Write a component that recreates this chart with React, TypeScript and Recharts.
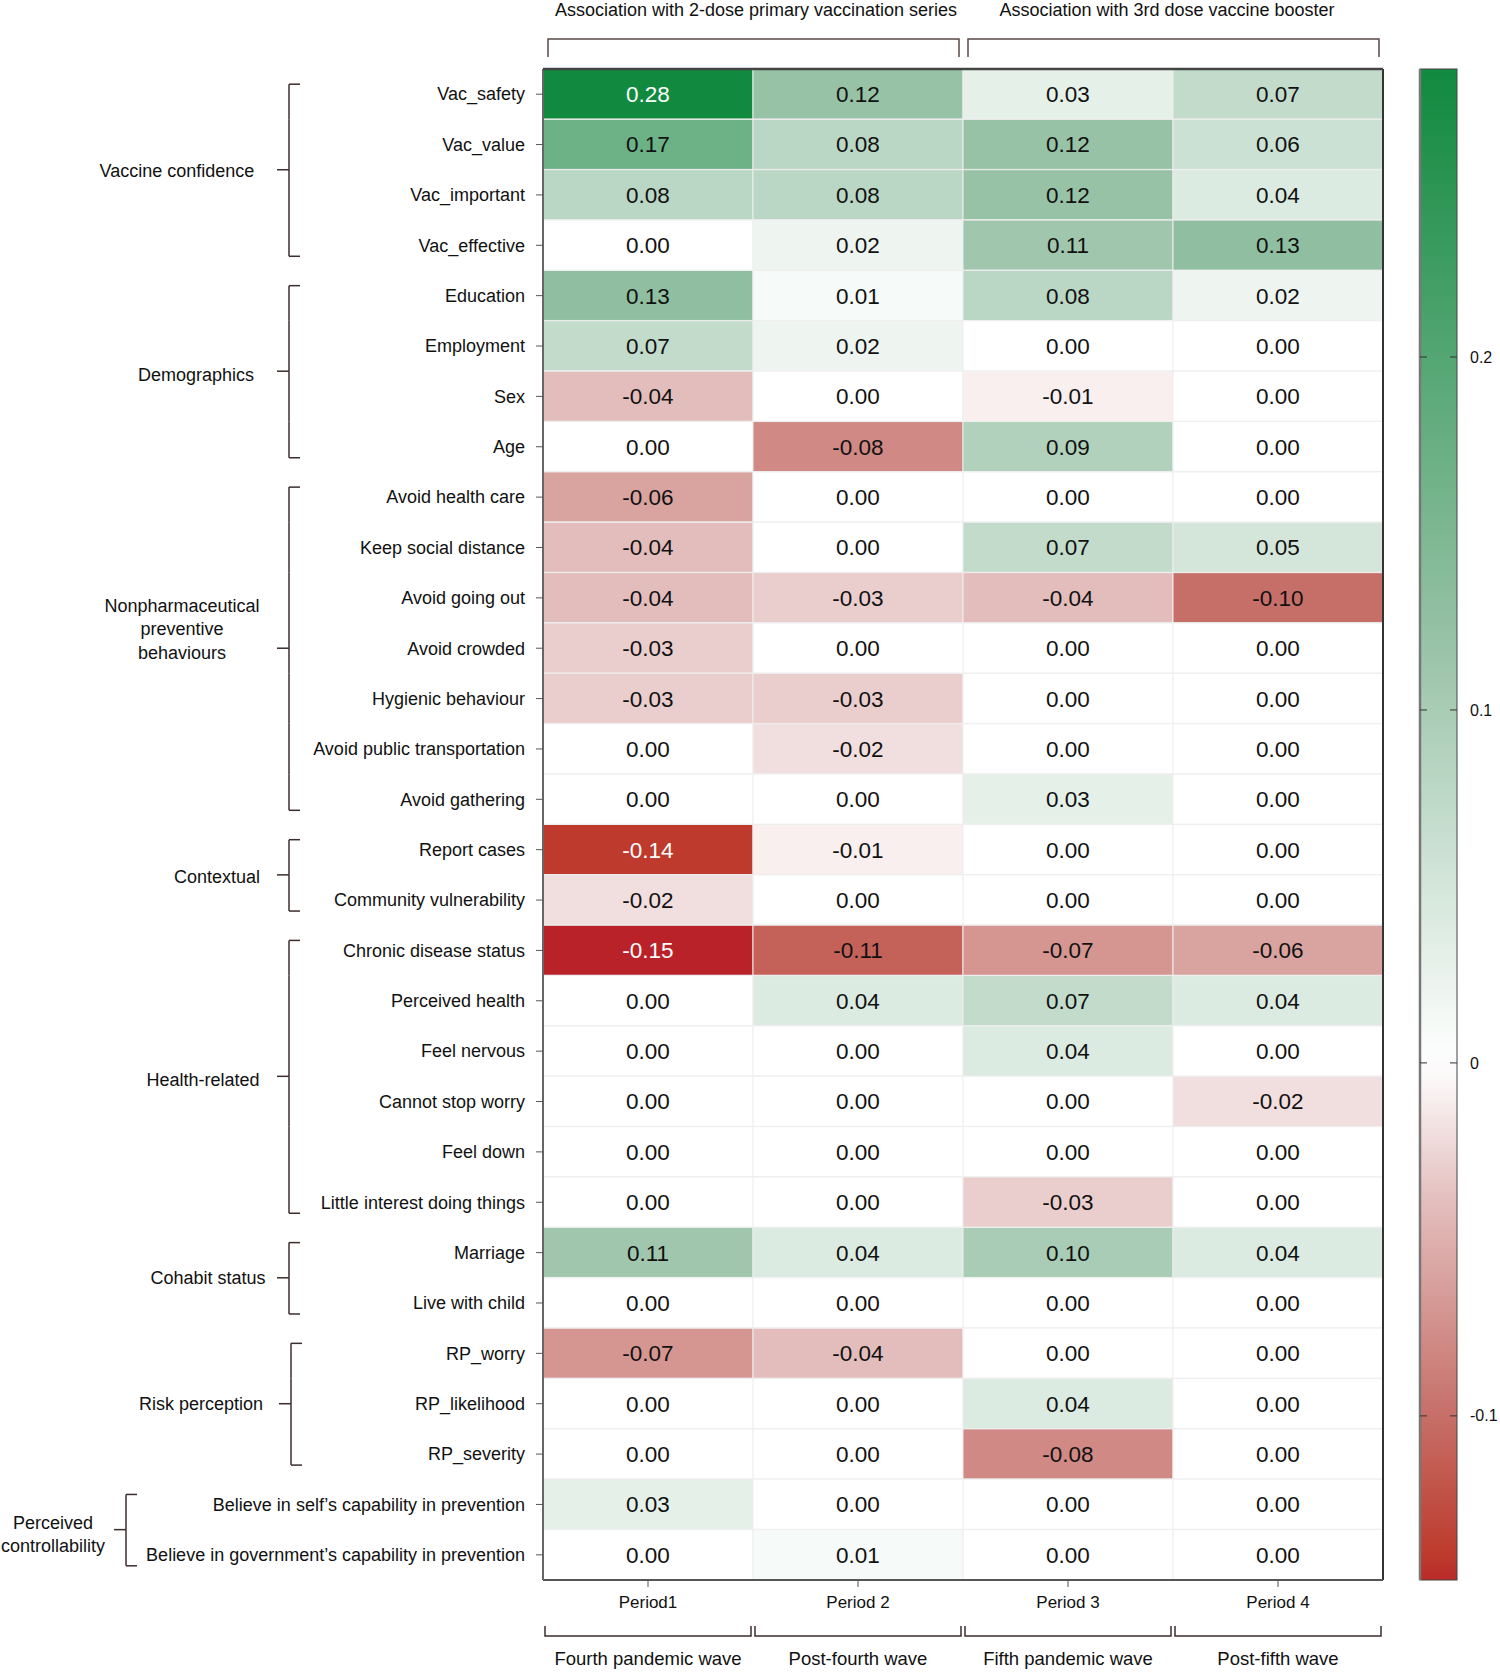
import React from 'react';
import { BarChart, Bar, XAxis, YAxis, Cell, LabelList, ReferenceLine } from 'recharts';

const ROWS = [
  'Vac_safety', 'Vac_value', 'Vac_important', 'Vac_effective',
  'Education', 'Employment', 'Sex', 'Age',
  'Avoid health care', 'Keep social distance', 'Avoid going out', 'Avoid crowded',
  'Hygienic behaviour', 'Avoid public transportation', 'Avoid gathering',
  'Report cases', 'Community vulnerability',
  'Chronic disease status', 'Perceived health', 'Feel nervous', 'Cannot stop worry',
  'Feel down', 'Little interest doing things',
  'Marriage', 'Live with child',
  'RP_worry', 'RP_likelihood', 'RP_severity',
  'Believe in self\u2019s capability in prevention',
  'Believe in government\u2019s capability in prevention',
];

const PERIOD1 = [0.28, 0.17, 0.08, 0.00, 0.13, 0.07, -0.04, 0.00, -0.06, -0.04, -0.04, -0.03, -0.03, 0.00, 0.00, -0.14, -0.02, -0.15, 0.00, 0.00, 0.00, 0.00, 0.00, 0.11, 0.00, -0.07, 0.00, 0.00, 0.03, 0.00];
const PERIOD2 = [0.12, 0.08, 0.08, 0.02, 0.01, 0.02, 0.00, -0.08, 0.00, 0.00, -0.03, 0.00, -0.03, -0.02, 0.00, -0.01, 0.00, -0.11, 0.04, 0.00, 0.00, 0.00, 0.00, 0.04, 0.00, -0.04, 0.00, 0.00, 0.00, 0.01];
const PERIOD3 = [0.03, 0.12, 0.12, 0.11, 0.08, 0.00, -0.01, 0.09, 0.00, 0.07, -0.04, 0.00, 0.00, 0.00, 0.03, 0.00, 0.00, -0.07, 0.07, 0.04, 0.00, 0.00, -0.03, 0.10, 0.00, 0.00, 0.04, -0.08, 0.00, 0.00];
const PERIOD4 = [0.07, 0.06, 0.04, 0.13, 0.02, 0.00, 0.00, 0.00, 0.00, 0.05, -0.10, 0.00, 0.00, 0.00, 0.00, 0.00, 0.00, -0.06, 0.04, 0.00, -0.02, 0.00, 0.00, 0.04, 0.00, 0.00, 0.00, 0.00, 0.00, 0.00];

const PERIODS = ['Period1', 'Period 2', 'Period 3', 'Period 4'];
const WAVES = ['Fourth pandemic wave', 'Post-fourth wave', 'Fifth pandemic wave', 'Post-fifth wave'];
const HEADERS = ['Association with 2-dose primary vaccination series', 'Association with 3rd dose vaccine booster'];

const GROUP_NAMES = [
  ['Vaccine confidence'], ['Demographics'], ['Nonpharmaceutical', 'preventive', 'behaviours'],
  ['Contextual'], ['Health-related'], ['Cohabit status'], ['Risk perception'], ['Perceived', 'controllability'],
];
const GROUP_FIRST = [0, 4, 8, 15, 17, 23, 25, 28];
const GROUP_LAST = [3, 7, 14, 16, 22, 24, 27, 29];

const COLORBAR_TICKS = [0.2, 0.1, 0, -0.1];
const CB_MIN = -0.1465;
const CB_MAX = 0.2816;

// layout
const W = 1500;
const H = 1672;
const PLOT_L = 543;
const PLOT_R = 1383;
const PLOT_T = 69;
const PLOT_B = 1580;
const ROW_H = (PLOT_B - PLOT_T) / ROWS.length;
const COL_W = (PLOT_R - PLOT_L) / PERIODS.length;
const BRACKET_X = [289, 289, 289, 289, 289, 289, 291, 126];
const LABEL_CX = [177, 196, 182, 217, 203, 208, 201, 53];
const LABEL_DY = [[1], [3], [-43, -20, 4], [2], [3], [0], [0], [-7, 16]];
const HEADER_SHIFT = [3, -6];
const BR = '#3d2c2c';
const FONT = '"Liberation Sans", Arial, Helvetica, sans-serif';

const STOPS: [number, string][] = [
  [-0.15, '#B82228'], [-0.14, '#BD3A2C'], [-0.1, '#C66F68'], [-0.04, '#E3BDBC'], [0, '#FFFFFF'], [0.12, '#97C2A6'], [0.28, '#118A3F'],
];

function hexToRgb(h: string) {
  return [parseInt(h.slice(1, 3), 16), parseInt(h.slice(3, 5), 16), parseInt(h.slice(5, 7), 16)];
}

function colorFor(v: number) {
  if (v <= STOPS[0][0]) return STOPS[0][1];
  if (v >= STOPS[STOPS.length - 1][0]) return STOPS[STOPS.length - 1][1];
  for (let k = 0; k < STOPS.length - 1; k++) {
    const [a, ca] = STOPS[k];
    const [b, cb] = STOPS[k + 1];
    if (v >= a && v <= b) {
      const t = (v - a) / (b - a);
      const p = hexToRgb(ca);
      const q = hexToRgb(cb);
      const c = p.map((x, j) => Math.round(x + (q[j] - x) * t));
      return `rgb(${c[0]},${c[1]},${c[2]})`;
    }
  }
  return '#fff';
}

const SERIES = [PERIOD1, PERIOD2, PERIOD3, PERIOD4];

const data = ROWS.map((row, i) => ({
  row,
  u1: 1, u2: 1, u3: 1, u4: 1,
  v1: PERIOD1[i], v2: PERIOD2[i], v3: PERIOD3[i], v4: PERIOD4[i],
}));

function CellLabel(props: any) {
  const { x, y, width, height, value } = props;
  const v = Number(value);
  const light = v >= 0.25 || v <= -0.135;
  return (
    <text x={x + width / 2} y={y + height / 2} dy="0.36em" textAnchor="middle" fontSize={22.5} fill={light ? '#fff' : '#111'} fontFamily={FONT}>
      {v.toFixed(2)}
    </text>
  );
}

function RowTick(props: any) {
  const { x, y, payload } = props;
  const i = ROWS.indexOf(payload.value);
  const g = GROUP_FIRST.findIndex((f, k) => i >= f && i <= GROUP_LAST[k]);
  const f = GROUP_FIRST[g];
  const l = GROUP_LAST[g];
  const bx = BRACKET_X[g];
  const top = i === f ? y - 10 : y - ROW_H / 2;
  const bot = i === l ? y + 11 : y + ROW_H / 2;
  const yc = y + ((l - f) * ROW_H) / 2;
  return (
    <g fontFamily={FONT}>
      <text x={x} y={y} dy="0.35em" textAnchor="end" fontSize={18} fill="#111">{payload.value}</text>
      <line x1={bx} x2={bx} y1={top} y2={bot} stroke={BR} strokeWidth={1.5} />
      {i === f && <line x1={bx} x2={bx + 11} y1={top} y2={top} stroke={BR} strokeWidth={1.5} />}
      {i === l && <line x1={bx} x2={bx + 11} y1={bot} y2={bot} stroke={BR} strokeWidth={1.5} />}
      {i === f && <line x1={bx - 12} x2={bx} y1={yc} y2={yc} stroke={BR} strokeWidth={1.5} />}
      {i === f && GROUP_NAMES[g].map((line, k) => (
        <text key={k} x={LABEL_CX[g]} y={yc + LABEL_DY[g][k]} dy="0.35em" textAnchor="middle" fontSize={18} fill="#111">{line}</text>
      ))}
    </g>
  );
}

// bottom axis tick: period label, wave bracket, and (for each pair of periods) the top header
function PeriodTick(props: any) {
  const { x, payload } = props;
  const c = Math.floor(payload.value);
  const l = x - COL_W / 2 + 2;
  const r = x + COL_W / 2 - 2;
  const by = PLOT_B + 56;
  const hx = x + COL_W / 2;
  const hl = hx - COL_W + 5;
  const hr = hx + COL_W - 4;
  return (
    <g fontFamily={FONT}>
      <text x={x} y={PLOT_B + 22} dy="0.35em" textAnchor="middle" fontSize={17} fill="#111">{PERIODS[c]}</text>
      <path d={`M${l},${by - 10} L${l},${by} L${r},${by} L${r},${by - 10}`} fill="none" stroke={BR} strokeWidth={1.5} />
      <text x={x} y={PLOT_B + 79} dy="0.35em" textAnchor="middle" fontSize={18.5} fill="#111">{WAVES[c]}</text>
      {c % 2 === 0 && (
        <g>
          <text x={hx + HEADER_SHIFT[c / 2]} y={10} dy="0.35em" textAnchor="middle" fontSize={18} fill="#111">{HEADERS[c / 2]}</text>
          <path d={`M${hl},57 L${hl},39 L${hr},39 L${hr},57`} fill="none" stroke="#5a4a48" strokeWidth={1.5} />
        </g>
      )}
    </g>
  );
}

function ColorBar() {
  const x0 = 1420;
  const x1 = 1457;
  const n = 60;
  const stops = Array.from({ length: n + 1 }, (_, k) => {
    const v = CB_MAX - ((CB_MAX - CB_MIN) * k) / n;
    return { off: (k / n) * 100, c: colorFor(v) };
  });
  const yOf = (v: number) => PLOT_T + ((CB_MAX - v) / (CB_MAX - CB_MIN)) * (PLOT_B - PLOT_T);
  return (
    <svg width={W} height={H} style={{ position: 'absolute', left: 0, top: 0, pointerEvents: 'none' }} fontFamily={FONT}>
      <defs>
        <linearGradient id="cbgrad" x1="0" y1="0" x2="0" y2="1">
          {stops.map((s, k) => <stop key={k} offset={`${s.off}%`} stopColor={s.c} />)}
        </linearGradient>
      </defs>
      <rect x={x0} y={PLOT_T} width={x1 - x0} height={PLOT_B - PLOT_T} fill="url(#cbgrad)" stroke="#444" strokeWidth={1} />
      <line x1={x0} x2={x0} y1={PLOT_T} y2={PLOT_B} stroke="#777" strokeWidth={2.5} />
      {COLORBAR_TICKS.map((t) => (
        <g key={t}>
          <line x1={x0} x2={x0 + 7} y1={yOf(t)} y2={yOf(t)} stroke="#333" strokeWidth={1} />
          <line x1={x1 - 7} x2={x1} y1={yOf(t)} y2={yOf(t)} stroke="#333" strokeWidth={1} />
          <text x={1470} y={yOf(t)} dy="0.35em" fontSize={16} fill="#111">{String(t)}</text>
        </g>
      ))}
    </svg>
  );
}

export default function App() {
  return (
    <div style={{ position: 'absolute', left: 0, top: 0, width: W, height: H, background: '#fff', fontFamily: FONT }}>
      <BarChart width={W} height={H} data={data} layout="vertical" margin={{ top: PLOT_T, right: W - PLOT_R, bottom: 0, left: 0 }} barCategoryGap={0} barGap={0}>
        <XAxis xAxisId="bottom" type="number" orientation="bottom" domain={[0, 4]} ticks={[0.5, 1.5, 2.5, 3.5]} interval={0}
          height={H - PLOT_B} tickSize={7} tick={PeriodTick} axisLine={{ stroke: '#555', strokeWidth: 2 }} tickLine={{ stroke: '#555' }} />
        <YAxis type="category" dataKey="row" width={PLOT_L} interval={0} tickSize={7} tickMargin={11}
          tick={RowTick} axisLine={{ stroke: '#666', strokeWidth: 2 }} tickLine={{ stroke: '#555' }} />
        {SERIES.map((vals, s) => (
          <Bar key={s} xAxisId="bottom" dataKey={`u${s + 1}`} stackId="heat" isAnimationActive={false}>
            {vals.map((v, i) => (
              <Cell key={i} fill={colorFor(v)} stroke="#EEEEEE" strokeWidth={1} />
            ))}
            <LabelList dataKey={`v${s + 1}`} content={CellLabel} />
          </Bar>
        ))}
        <ReferenceLine xAxisId="bottom" x={4} stroke="#333" strokeWidth={2} />
      </BarChart>
      <svg width={W} height={PLOT_T + 2} style={{ position: 'absolute', left: 0, top: 0, pointerEvents: 'none' }}>
        <line x1={PLOT_L} x2={PLOT_R} y1={PLOT_T} y2={PLOT_T} stroke="#444" strokeWidth={2.5} />
      </svg>
      <ColorBar />
    </div>
  );
}
